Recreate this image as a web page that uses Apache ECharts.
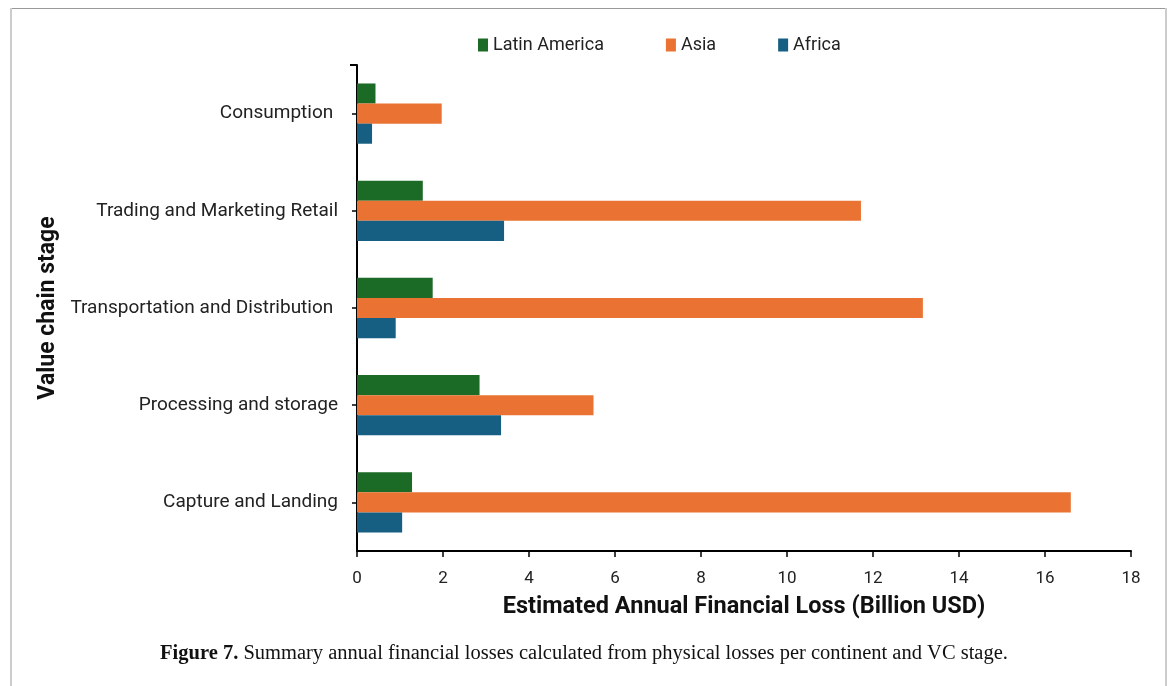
<!DOCTYPE html>
<html>
<head>
<meta charset="utf-8">
<script src="https://cdn.jsdelivr.net/npm/echarts@6/dist/echarts.min.js"></script>
<style>
html,body{margin:0;padding:0;background:#fff;}
#chart{width:1168px;height:686px;}
</style>
</head>
<body>
<div id="chart"></div>
<script>
// Categories bottom to top
const categories = ['Capture and Landing', 'Processing and storage', 'Transportation and Distribution ', 'Trading and Marketing Retail', 'Consumption '];
const latinAmerica = [1.28, 2.85, 1.76, 1.53, 0.43];
const asia = [16.6, 5.5, 13.16, 11.72, 1.97];
const africa = [1.05, 3.35, 0.9, 3.42, 0.35];
const xTicks = [0, 2, 4, 6, 8, 10, 12, 14, 16, 18];
const legendOrder = ['Latin America', 'Asia', 'Africa'];

const chart = echarts.init(document.getElementById('chart'));
const font = 'Roboto, "Noto Sans", sans-serif';
const option = {
  backgroundColor: '#fff',
  animation: false,
  legend: {
    data: legendOrder,
    top: 31,
    left: 473,
    itemWidth: 10,
    itemHeight: 13,
    itemGap: 62,
    icon: 'rect',
    textStyle: { fontFamily: font, fontSize: 18, color: '#222' }
  },
  grid: { left: 357, right: 37, top: 65, bottom: 135, containLabel: false },
  xAxis: {
    type: 'value',
    min: xTicks[0],
    max: xTicks[xTicks.length - 1],
    interval: 2,
    splitLine: { show: false },
    axisLine: { show: true, lineStyle: { color: '#000', width: 2 } },
    axisTick: { show: true, length: 6, lineStyle: { color: '#000', width: 1.5 } },
    axisLabel: { fontFamily: font, fontSize: 17, color: '#222', margin: 19 },
    name: 'Estimated Annual Financial Loss (Billion USD)',
    nameLocation: 'middle',
    nameGap: 44,
    nameTextStyle: { fontFamily: font, fontSize: 23.5, fontWeight: 'bold', color: '#111' }
  },
  yAxis: {
    type: 'category',
    data: categories,
    axisLine: { show: true, lineStyle: { color: '#000', width: 2 } },
    axisTick: { show: true, alignWithLabel: true, length: 5, lineStyle: { color: '#000', width: 1.5 } },
    axisLabel: { fontFamily: font, fontSize: 19, color: '#222', margin: 19 },
    name: 'Value chain stage',
    nameLocation: 'middle',
    nameGap: 296,
    nameRotate: 90,
    nameTextStyle: { fontFamily: font, fontSize: 23, fontWeight: 'bold', color: '#111' }
  },
  series: [
    { name: 'Latin America', type: 'bar', data: latinAmerica, itemStyle: { color: '#1b6a25' }, barGap: '0%', barCategoryGap: '38%' },
    { name: 'Asia', type: 'bar', data: asia, itemStyle: { color: '#ea7334' }, barGap: '0%', barCategoryGap: '38%' },
    { name: 'Africa', type: 'bar', data: africa, itemStyle: { color: '#175f82' }, barGap: '0%', barCategoryGap: '38%' }
  ],
  graphic: [
    { type: 'line', shape: { x1: 10, y1: 8.5, x2: 1166, y2: 8.5 }, style: { stroke: '#999', lineWidth: 1 } },
    { type: 'line', shape: { x1: 11, y1: 8, x2: 11, y2: 686 }, style: { stroke: '#ccc', lineWidth: 2 } },
    { type: 'line', shape: { x1: 1166, y1: 8, x2: 1166, y2: 686 }, style: { stroke: '#ccc', lineWidth: 2 } },
    { type: 'line', shape: { x1: 350, y1: 65, x2: 357, y2: 65 }, style: { stroke: '#000', lineWidth: 2 } },
    {
      type: 'text', left: 'center', top: 643,
      style: {
        rich: {
          b: { fontFamily: '"Liberation Serif", "DejaVu Serif", serif', fontSize: 20.5, fontWeight: 'bold', fill: '#111' },
          n: { fontFamily: '"Liberation Serif", "DejaVu Serif", serif', fontSize: 20.5, fill: '#111' }
        },
        text: '{b|Figure 7.}{n| Summary annual financial losses calculated from physical losses per continent and VC stage.}'
      }
    }
  ]
};
chart.setOption(option);
</script>
</body>
</html>
